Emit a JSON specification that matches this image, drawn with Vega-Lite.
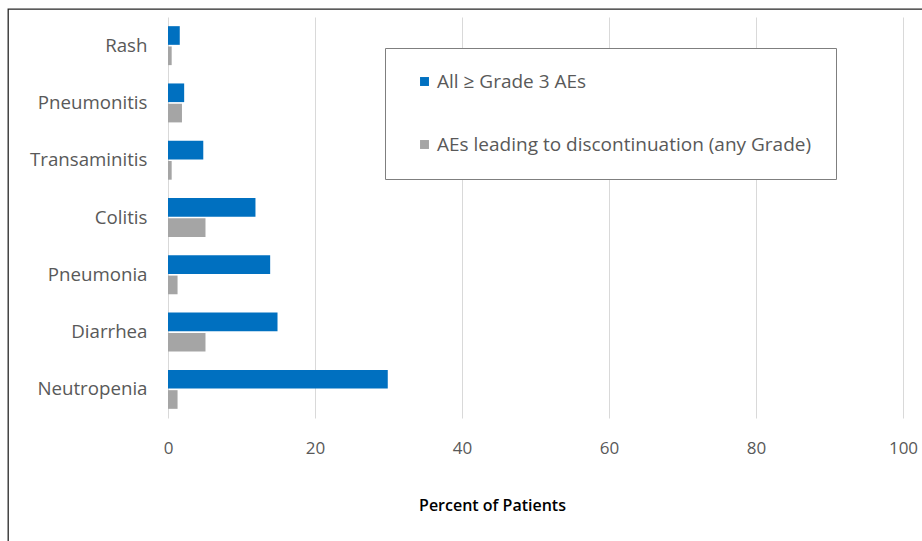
{
  "$schema": "https://vega.github.io/schema/vega-lite/v6.json",
  "width": 930,
  "height": 545,
  "autosize": {"type": "none"},
  "padding": {"left": 8, "top": 9, "right": 0, "bottom": 0},
  "background": "white",
  "config": {
    "view": {"stroke": "#262626", "strokeWidth": 1.3},
    "font": "Open Sans"
  },
  "data": {
    "values": [
      {"event": "Rash", "series": "All ≥ Grade 3 AEs", "percent": 1.6},
      {"event": "Rash", "series": "AEs leading to discontinuation (any Grade)", "percent": 0.5},
      {"event": "Pneumonitis", "series": "All ≥ Grade 3 AEs", "percent": 2.2},
      {"event": "Pneumonitis", "series": "AEs leading to discontinuation (any Grade)", "percent": 1.9},
      {"event": "Transaminitis", "series": "All ≥ Grade 3 AEs", "percent": 4.8},
      {"event": "Transaminitis", "series": "AEs leading to discontinuation (any Grade)", "percent": 0.5},
      {"event": "Colitis", "series": "All ≥ Grade 3 AEs", "percent": 11.9},
      {"event": "Colitis", "series": "AEs leading to discontinuation (any Grade)", "percent": 5.1},
      {"event": "Pneumonia", "series": "All ≥ Grade 3 AEs", "percent": 13.9},
      {"event": "Pneumonia", "series": "AEs leading to discontinuation (any Grade)", "percent": 1.3},
      {"event": "Diarrhea", "series": "All ≥ Grade 3 AEs", "percent": 14.9},
      {"event": "Diarrhea", "series": "AEs leading to discontinuation (any Grade)", "percent": 5.1},
      {"event": "Neutropenia", "series": "All ≥ Grade 3 AEs", "percent": 29.9},
      {"event": "Neutropenia", "series": "AEs leading to discontinuation (any Grade)", "percent": 1.3}
    ]
  },
  "encoding": {
    "y": {
      "field": "event",
      "type": "nominal",
      "sort": ["Rash", "Pneumonitis", "Transaminitis", "Colitis", "Pneumonia", "Diarrhea", "Neutropenia"],
      "scale": {"range": [8, 409], "paddingInner": 0.32, "paddingOuter": 0.16},
      "axis": {
        "title": null,
        "orient": "left",
        "offset": -160,
        "domain": false,
        "ticks": false,
        "grid": false,
        "labelPadding": 21,
        "labelFontSize": 18.7,
        "labelColor": "#595959",
        "labelFont": "Open Sans"
      }
    },
    "yOffset": {
      "field": "series",
      "type": "nominal",
      "sort": ["All ≥ Grade 3 AEs", "AEs leading to discontinuation (any Grade)"],
      "scale": {"paddingInner": 0.08}
    }
  },
  "layer": [
    {
      "mark": {"type": "bar", "opacity": 0},
      "encoding": {
        "x": {
          "field": "percent",
          "type": "quantitative",
          "scale": {"domain": [0, 100], "range": [160, 895], "nice": false, "zero": true},
          "axis": {
            "orient": "top",
            "values": [0, 20, 40, 60, 80, 100],
            "domain": false,
            "ticks": false,
            "labels": false,
            "grid": true,
            "gridColor": "#d9d9d9",
            "gridWidth": 1,
            "title": null
          }
        }
      }
    },
    {
      "mark": {"type": "bar"},
      "encoding": {
        "x": {
          "field": "percent",
          "type": "quantitative",
          "scale": {"domain": [0, 100], "range": [160, 895], "nice": false, "zero": true},
          "axis": {
            "orient": "bottom",
            "offset": -126,
            "values": [0, 20, 40, 60, 80, 100],
            "domain": false,
            "ticks": false,
            "grid": false,
            "labelFlush": false,
            "labelOverlap": false,
            "labelPadding": 12,
            "labelFontSize": 17,
            "labelColor": "#595959",
            "labelFont": "Open Sans",
            "title": "Percent of Patients",
            "titleFont": "Open Sans",
            "titleFontSize": 16,
            "titleFontWeight": 600,
            "titleColor": "#000000",
            "titleX": 484,
            "titleY": 77,
            "titleAlign": "center",
            "titleBaseline": "middle",
            "titleAnchor": null
          }
        },
        "color": {
          "field": "series",
          "type": "nominal",
          "sort": ["All ≥ Grade 3 AEs", "AEs leading to discontinuation (any Grade)"],
          "scale": {
            "domain": ["All ≥ Grade 3 AEs", "AEs leading to discontinuation (any Grade)"],
            "range": ["#0070C0", "#A5A5A5"]
          },
          "legend": {
            "title": null,
            "orient": "none",
            "legendX": 377,
            "legendY": 39,
            "padding": 24,
            "strokeColor": "#7f7f7f",
            "fillColor": "white",
            "rowPadding": 43,
            "symbolType": "square",
            "symbolSize": 80,
            "symbolStrokeWidth": 0,
            "symbolOffset": 6,
            "labelOffset": 3,
            "labelFontSize": 19,
            "labelColor": "#595959",
            "labelFont": "Open Sans",
            "labelLimit": 500
          }
        }
      }
    }
  ]
}
